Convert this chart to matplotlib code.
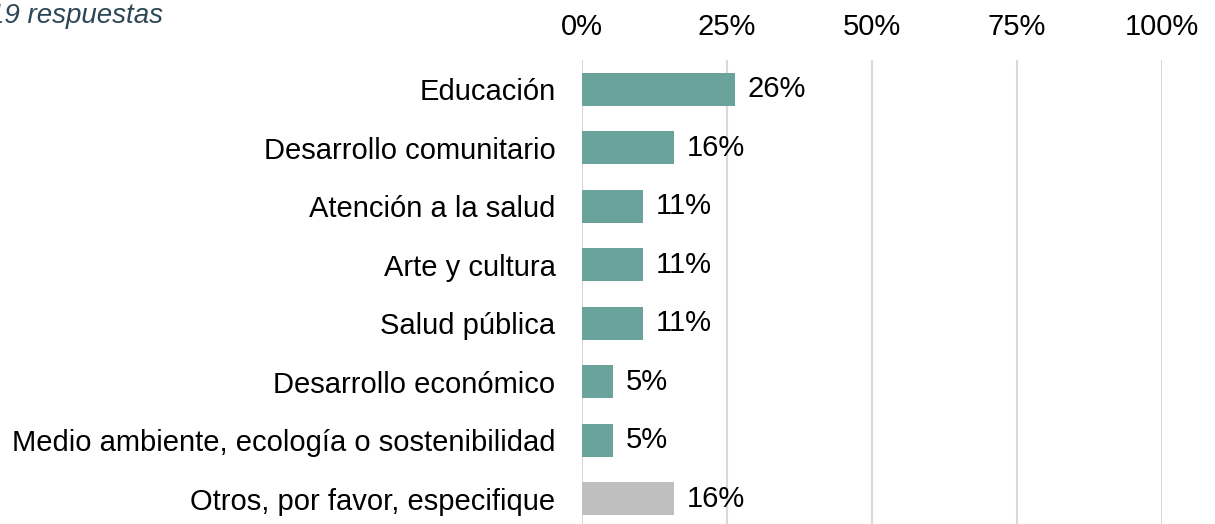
import numpy as np
import matplotlib
matplotlib.use('Agg')
import matplotlib.pyplot as plt
from matplotlib.ticker import PercentFormatter

plt.rcParams['font.family'] = ['Liberation Sans', 'DejaVu Sans']

###### Data ######

categorias = ['Educación', 'Desarrollo comunitario', 'Atención a la salud',
              'Arte y cultura', 'Salud pública', 'Desarrollo económico',
              'Medio ambiente, ecología o sostenibilidad',
              'Otros, por favor, especifique']
porcentajes = [26.3, 15.8, 10.5, 10.5, 10.5, 5.3, 5.3, 15.8]
etiquetas = ['26%', '16%', '11%', '11%', '11%', '5%', '5%', '16%']
colores = ['#69A39C'] * 7 + ['#BFBFBF']
xticks = [0, 25, 50, 75, 100]

###### Plot ######

W, H = 1215, 524
fs = 21
fig = plt.figure(figsize=(W / 100, H / 100), dpi=100)
ax = fig.add_axes([582 / W, -4 / H, 580 / W, 468 / H])

y = np.arange(len(categorias))
ax.barh(y, porcentajes, height=0.56, color=colores, zorder=3)
for yy, val, lab in zip(y, porcentajes, etiquetas):
    ax.text(val + 2.2, yy, lab, va='center', ha='left', fontsize=fs, color='black')

ax.set_xlim(0, 100)
ax.set_ylim(len(categorias) - 0.5, -0.5)
ax.set_yticks(y)
ax.set_yticklabels(categorias, fontsize=fs)
ax.set_xticks(xticks)
ax.xaxis.set_major_formatter(PercentFormatter(decimals=0))
ax.xaxis.tick_top()
ax.tick_params(axis='x', length=0, pad=14, labelsize=fs)
ax.tick_params(axis='y', length=0, pad=19)
ax.grid(axis='x', color='#D9D9D9', linewidth=1.5, zorder=0)
for s in ax.spines.values():
    s.set_visible(False)

fig.text(163 / W, 1 - 16 / H, '19 respuestas', ha='right', va='center',
         fontsize=20, style='italic', color='#2E4756')

plt.savefig('out.png', dpi=100, facecolor='w')
